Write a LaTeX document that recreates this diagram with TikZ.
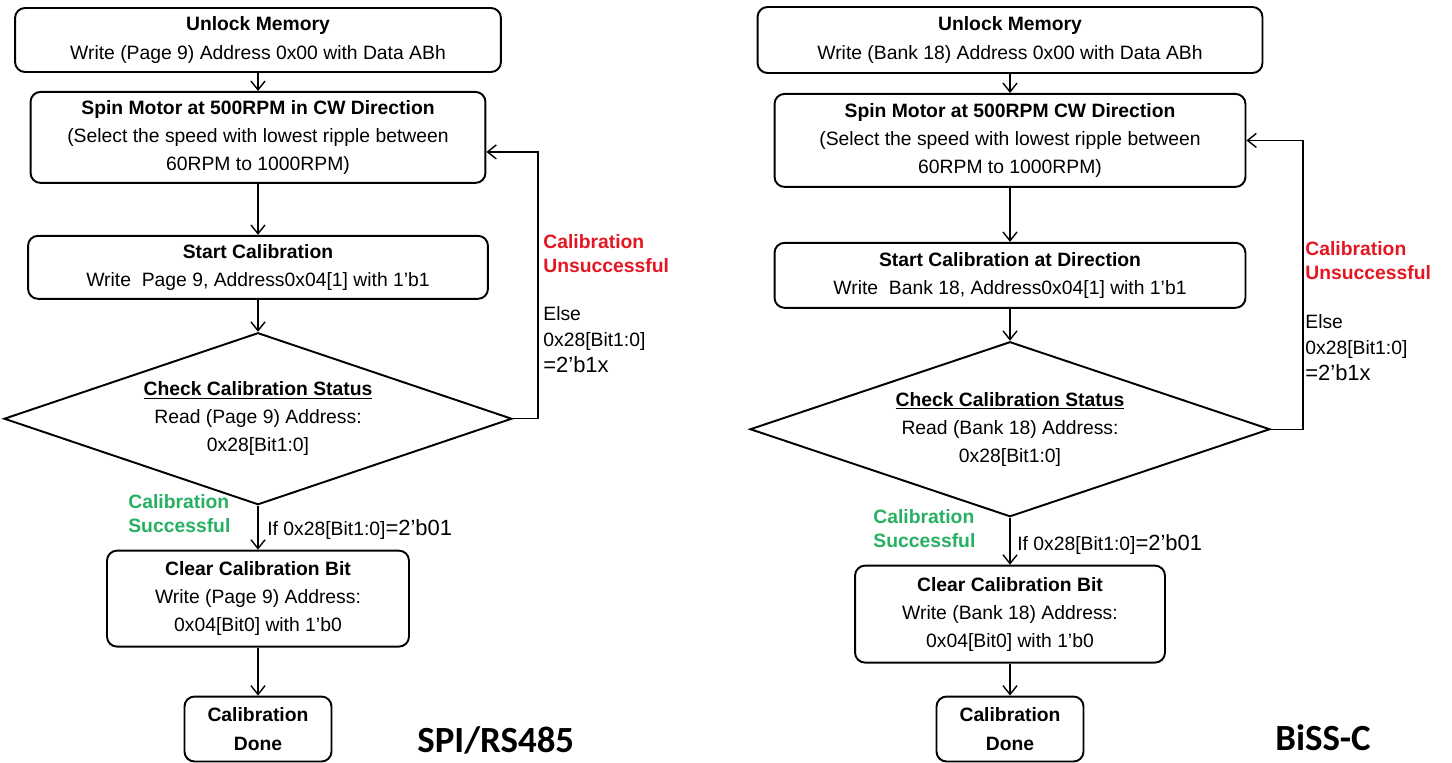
\documentclass[tikz,border=0pt]{standalone}
\usepackage{fontspec}
\setmainfont{Liberation Sans}
\newfontfamily\titlefont{Carlito}
\usetikzlibrary{positioning,shapes.geometric,arrows.meta}
\definecolor{failred}{RGB}{228,22,34}
\definecolor{passgreen}{RGB}{38,176,98}
\tikzset{
  stepbox/.style={draw, rounded corners=0.2cm, line width=1.1pt, align=center, inner sep=0pt},
  checkbox/.style={draw, diamond, aspect=3, line width=1.1pt, align=center, inner sep=0pt},
  flow/.style={-{Straight Barb[length=5pt,width=8pt]}, line width=0.8pt},
  lbl/.style={align=left, inner sep=0pt, anchor=north west}
}
\begin{document}
\begin{tikzpicture}[x=0.02cm,y=-0.02cm,every node/.style={font=\fontsize{11}{16}\selectfont}]
	\useasboundingbox (0,0) rectangle (1452,763);

	% SPI/RS485
	\node (a1) [stepbox, minimum width=9.72cm, minimum height=1.28cm] at (258,40) {\textbf{Unlock Memory}\\Write (Page 9) Address 0x00 with Data ABh};
	\node (a2) [stepbox, minimum width=9.1cm, minimum height=1.82cm, below=0.36cm of a1] {\textbf{Spin Motor at 500RPM in CW Direction}\\(Select the speed with lowest ripple between\\60RPM to 1000RPM)};
	\node (a3) [stepbox, minimum width=9.2cm, minimum height=1.26cm, below=1.02cm of a2] {\textbf{Start Calibration}\\Write\ \ Page 9, Address0x04[1] with 1’b1};
	\node (a4) [checkbox, minimum width=10.16cm, minimum height=3.44cm, below=0.64cm of a3] {\underline{\textbf{Check Calibration Status}}\\Read (Page 9) Address:\\0x28[Bit1:0]};
	\node (a5) [stepbox, minimum width=6.04cm, minimum height=1.92cm, below=0.88cm of a4] {\textbf{Clear Calibration Bit}\\Write (Page 9) Address:\\0x04[Bit0] with 1’b0};
	\node (a6) [stepbox, minimum width=2.94cm, minimum height=1.3cm, below=0.96cm of a5] {\textbf{Calibration}\\\textbf{Done}};

	\draw[flow] (a1) -- (a2);
	\draw[flow] (a2) -- (a3);
	\draw[flow] (a3) -- (a4);
	\draw[flow] (a4) -- (a5);
	\draw[flow] (a5) -- (a6);
	\draw[flow] (a4.east) -- ++(25,0) |- ([yshift=-0.29cm]a2.east);

	\node[lbl, text=failred, font=\fontsize{11}{13.6}\selectfont\bfseries] at (543,234) {Calibration\\Unsuccessful};
	\node[lbl, font=\fontsize{11}{14.7}\selectfont] at (543,306) {Else\\0x28[Bit1:0]\\{\fontsize{12.5}{14.7}\selectfont =2’b1x}};
	\node[lbl, text=passgreen, font=\fontsize{11}{14}\selectfont\bfseries] at (128,494) {Calibration\\Successful};
	\node[anchor=base west, inner sep=0pt] at (267,535) {If 0x28[Bit1:0]{\fontsize{12.5}{15}\selectfont =2’b01}};
	\node[anchor=base west, inner sep=0pt, font=\titlefont\fontsize{21}{25}\selectfont\bfseries] at (417,752) {SPI/RS485};

	% BiSS-C
	\node (b1) [stepbox, minimum width=10.1cm, minimum height=1.32cm] at (1010,40) {\textbf{Unlock Memory}\\Write (Bank 18) Address 0x00 with Data ABh};
	\node (b2) [stepbox, minimum width=9.42cm, minimum height=1.86cm, below=0.38cm of b1] {\textbf{Spin Motor at 500RPM CW Direction}\\(Select the speed with lowest ripple between\\60RPM to 1000RPM)};
	\node (b3) [stepbox, minimum width=9.42cm, minimum height=1.3cm, below=1.08cm of b2] {\textbf{Start Calibration at Direction}\\Write\ \ Bank 18, Address0x04[1] with 1’b1};
	\node (b4) [checkbox, minimum width=10.4cm, minimum height=3.5cm, below=0.64cm of b3] {\underline{\textbf{Check Calibration Status}}\\Read (Bank 18) Address:\\0x28[Bit1:0]};
	\node (b5) [stepbox, minimum width=6.2cm, minimum height=1.94cm, below=0.94cm of b4] {\textbf{Clear Calibration Bit}\\Write (Bank 18) Address:\\0x04[Bit0] with 1’b0};
	\node (b6) [stepbox, minimum width=2.94cm, minimum height=1.3cm, below=0.64cm of b5] {\textbf{Calibration}\\\textbf{Done}};

	\draw[flow] (b1) -- (b2);
	\draw[flow] (b2) -- (b3);
	\draw[flow] (b3) -- (b4);
	\draw[flow] (b4) -- (b5);
	\draw[flow] (b5) -- (b6);
	\draw[flow] (b4.east) -- ++(32,0) |- (b2.east);

	\node[lbl, text=failred, font=\fontsize{11}{13.6}\selectfont\bfseries] at (1305,241) {Calibration\\Unsuccessful};
	\node[lbl, font=\fontsize{11}{14.7}\selectfont] at (1305,314) {Else\\0x28[Bit1:0]\\{\fontsize{12.5}{14.7}\selectfont =2’b1x}};
	\node[lbl, text=passgreen, font=\fontsize{11}{14}\selectfont\bfseries] at (873,509) {Calibration\\Successful};
	\node[anchor=base west, inner sep=0pt] at (1017,550) {If 0x28[Bit1:0]{\fontsize{12.5}{15}\selectfont =2’b01}};
	\node[anchor=base west, inner sep=0pt, font=\titlefont\fontsize{21}{25}\selectfont\bfseries] at (1275,750) {BiSS-C};
\end{tikzpicture}
\end{document}
